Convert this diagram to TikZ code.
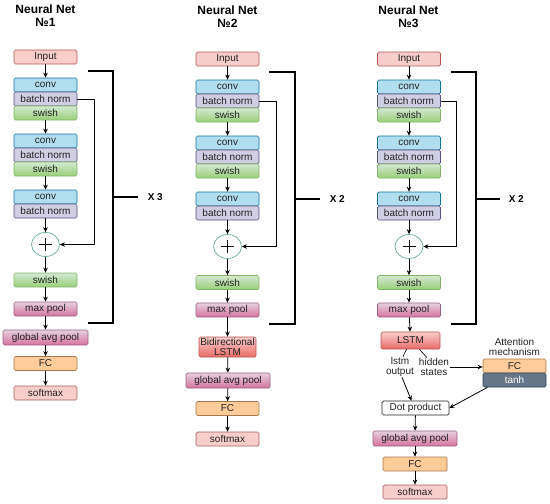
\documentclass[tikz,border=0pt]{standalone}
\usepackage{fontspec}
\setmainfont{Liberation Sans}
\usetikzlibrary{arrows.meta,positioning,shapes.geometric}

\definecolor{inputfill}{HTML}{F8CECC}
\definecolor{inputdraw}{HTML}{B85450}
\definecolor{convfill}{HTML}{B1DDF0}
\definecolor{convdraw}{HTML}{10739E}
\definecolor{bnfill}{HTML}{D0CEE2}
\definecolor{bndraw}{HTML}{56517E}
\definecolor{swtop}{HTML}{D5E8D4}
\definecolor{swbot}{HTML}{97D077}
\definecolor{swdraw}{HTML}{82B366}
\definecolor{pooltop}{HTML}{E6D0DE}
\definecolor{poolbot}{HTML}{D5739D}
\definecolor{pooldraw}{HTML}{996185}
\definecolor{fcfill}{HTML}{FFCC99}
\definecolor{fcdraw}{HTML}{A8774B}
\definecolor{lstmtop}{HTML}{F8CECC}
\definecolor{lstmbot}{HTML}{EA6B66}
\definecolor{tanhfill}{HTML}{647687}
\definecolor{tanhdraw}{HTML}{314354}
\definecolor{plusdraw}{HTML}{67AB9F}
\definecolor{txt}{HTML}{222222}

\tikzset{
  blk/.style={draw, rounded corners=1.5pt, line width=0.7pt, minimum width=63pt,
    minimum height=14pt, inner sep=0pt, text=txt,
    font=\fontsize{10}{9.5}\selectfont},
  inbox/.style={blk, fill=inputfill, draw=inputdraw},
  convbox/.style={blk, fill=convfill, draw=convdraw},
  bnbox/.style={blk, fill=bnfill, draw=bndraw},
  swbox/.style={blk, top color=swtop, bottom color=swbot, draw=swdraw},
  poolbox/.style={blk, top color=pooltop, bottom color=poolbot, draw=pooldraw},
  fcbox/.style={blk, fill=fcfill, draw=fcdraw},
  smbox/.style={blk, fill=inputfill, draw=inputdraw!70!gray},
  lstmbox/.style={blk, top color=lstmtop, bottom color=lstmbot, draw=inputdraw, align=center},
  tanhbox/.style={blk, fill=tanhfill, draw=tanhdraw, text=white},
  dotbox/.style={blk, fill=white, draw=txt},
  plusnode/.style={ellipse, draw=plusdraw, fill=white, line width=0.7pt,
    minimum width=28pt, minimum height=24pt, inner sep=0pt},
  lbl/.style={align=center, inner sep=0.5pt, text=txt,
    font=\fontsize{10}{10}\selectfont},
  title/.style={align=center, font=\fontsize{12}{13}\selectfont\bfseries},
  rep/.style={font=\fontsize{10}{10}\selectfont\bfseries, inner sep=0pt},
  arr/.style={-{Stealth[length=5pt,width=4.5pt]}, line width=0.8pt},
  brk/.style={line width=1.5pt},
}

\begin{document}
\begin{tikzpicture}[x=1pt,y=-1pt]
	\useasboundingbox (0,0) rectangle (550,504);

	% Neural Net 1
	\node[title] (t1) at (45.5,16) {Neural Net\\№1};
	\node[inbox] (in1) at (45.5,57) {Input};
	\node[convbox] (c1a) at (45.5,85) {conv};
	\node[bnbox] (b1a) at (45.5,99) {batch norm};
	\node[swbox] (s1a) at (45.5,113) {swish};
	\node[convbox] (c1b) at (45.5,141) {conv};
	\node[bnbox] (b1b) at (45.5,155) {batch norm};
	\node[swbox] (s1b) at (45.5,169) {swish};
	\node[convbox] (c1c) at (45.5,197) {conv};
	\node[bnbox] (b1c) at (45.5,211) {batch norm};
	\node[plusnode] (p1) at (45.5,244.5) {};
	\node[swbox] (s1c) at (45.5,280) {swish};
	\node[poolbox] (m1) at (45.5,309) {max pool};
	\node[poolbox, minimum width=85pt, minimum height=15pt] (g1) at (45.5,337.5) {global avg pool};
	\node[fcbox] (f1) at (45.5,363.5) {FC};
	\node[smbox] (o1) at (45.5,393) {softmax};

	\draw[line width=0.7pt] ([xshift=-6.5pt]p1.center) -- ([xshift=6.5pt]p1.center);
	\draw[line width=0.7pt] ([yshift=-6.5pt]p1.center) -- ([yshift=6.5pt]p1.center);

	\draw[arr] (in1) -- (c1a);
	\draw[arr] (s1a) -- (c1b);
	\draw[arr] (s1b) -- (c1c);
	\draw[arr] (b1c) -- (p1);
	\draw[arr] (p1) -- (s1c);
	\draw[arr] (s1c) -- (m1);
	\draw[arr] (m1) -- (g1);
	\draw[arr] (g1) -- (f1);
	\draw[arr] (f1) -- (o1);
	\draw[arr] (b1a.east) -- ++(17,0) |- (p1.east);

	\coordinate (r1t) at (88,71);
	\coordinate (r1b) at (88,323);
	\draw[brk] (r1t) -- ++(25,0) coordinate (r1a) |- (r1b);
	\draw[brk] (r1a |- c1c) -- ++(25,0) node[rep, right=9pt] (x1) {X 3};

	% Neural Net 2
	\node[title] (t2) at (227.5,17) {Neural Net\\№2};
	\node[inbox] (in2) at (227.5,59) {Input};
	\node[convbox] (c2a) at (227.5,87) {conv};
	\node[bnbox] (b2a) at (227.5,101) {batch norm};
	\node[swbox] (s2a) at (227.5,115) {swish};
	\node[convbox] (c2b) at (227.5,143) {conv};
	\node[bnbox] (b2b) at (227.5,157) {batch norm};
	\node[swbox] (s2b) at (227.5,171) {swish};
	\node[convbox] (c2c) at (227.5,199) {conv};
	\node[bnbox] (b2c) at (227.5,213) {batch norm};
	\node[plusnode] (p2) at (227.5,246.5) {};
	\node[swbox] (s2c) at (227.5,282.5) {swish};
	\node[poolbox] (m2) at (227.5,310) {max pool};
	\node[lstmbox, minimum width=57pt, minimum height=20pt] (l2) at (227.5,347) {Bidirectional\\LSTM};
	\node[poolbox, minimum width=84pt, minimum height=15pt] (g2) at (228,380.5) {global avg pool};
	\node[fcbox] (f2) at (227.5,408.5) {FC};
	\node[smbox] (o2) at (227.5,439) {softmax};

	\draw[line width=0.7pt] ([xshift=-6.5pt]p2.center) -- ([xshift=6.5pt]p2.center);
	\draw[line width=0.7pt] ([yshift=-6.5pt]p2.center) -- ([yshift=6.5pt]p2.center);

	\draw[arr] (in2) -- (c2a);
	\draw[arr] (s2a) -- (c2b);
	\draw[arr] (s2b) -- (c2c);
	\draw[arr] (b2c) -- (p2);
	\draw[arr] (p2) -- (s2c);
	\draw[arr] (s2c) -- (m2);
	\draw[arr] (m2) -- (l2);
	\draw[arr] (l2) -- (g2);
	\draw[arr] (g2) -- (f2);
	\draw[arr] (f2) -- (o2);
	\draw[arr] (b2a.east) -- ++(17,0) |- (p2.east);

	\coordinate (r2t) at (269,72);
	\coordinate (r2b) at (269,324);
	\draw[brk] (r2t) -- ++(26,0) coordinate (r2a) |- (r2b);
	\draw[brk] (r2a |- c2c) -- ++(25,0) node[rep, right=9pt] (x2) {X 2};

	% Neural Net 3
	\node[title] (t3) at (408.5,17) {Neural Net\\№3};
	\node[inbox] (in3) at (409,59) {Input};
	\node[convbox] (c3a) at (409,87) {conv};
	\node[bnbox] (b3a) at (409,101) {batch norm};
	\node[swbox] (s3a) at (409,115) {swish};
	\node[convbox] (c3b) at (409,143) {conv};
	\node[bnbox] (b3b) at (409,157) {batch norm};
	\node[swbox] (s3b) at (409,171) {swish};
	\node[convbox] (c3c) at (409,199) {conv};
	\node[bnbox] (b3c) at (409,213) {batch norm};
	\node[plusnode] (p3) at (409,246.5) {};
	\node[swbox] (s3c) at (409,282.5) {swish};
	\node[poolbox] (m3) at (409,310) {max pool};
	\node[lstmbox, minimum width=59pt, minimum height=17pt] (l3) at (410.5,340.5) {LSTM};
	\node[lbl] (lo3) at (400,367) {lstm\\output};
	\node[lbl] (hs3) at (434,367) {hidden\\states};
	\node[lbl] (at3) at (514.5,347) {Attention\\mechanism};
	\node[fcbox] (a3) at (514.5,366) {FC};
	\node[tanhbox] (th3) at (514.5,380) {tanh};
	\node[dotbox, minimum width=67pt] (d3) at (415.5,408) {Dot product};
	\node[poolbox, minimum width=84pt, minimum height=15pt] (g3) at (415,438.5) {global avg pool};
	\node[fcbox, minimum width=64pt] (f3) at (415,464) {FC};
	\node[smbox, minimum width=64pt] (o3) at (415,492) {softmax};

	\draw[line width=0.7pt] ([xshift=-6.5pt]p3.center) -- ([xshift=6.5pt]p3.center);
	\draw[line width=0.7pt] ([yshift=-6.5pt]p3.center) -- ([yshift=6.5pt]p3.center);

	\draw[arr] (in3) -- (c3a);
	\draw[arr] (s3a) -- (c3b);
	\draw[arr] (s3b) -- (c3c);
	\draw[arr] (b3c) -- (p3);
	\draw[arr] (p3) -- (s3c);
	\draw[arr] (s3c) -- (m3);
	\draw[arr] (m3) -- (l3);
	\draw[arr] (b3a.east) -- ++(16,0) |- (p3.east);
	\draw[line width=0.6pt] ([xshift=-4pt]l3.south) -- ([xshift=3pt]lo3.north);
	\draw[line width=0.6pt] ([xshift=9pt]l3.south) -- ([xshift=-7pt]hs3.north);
	\draw[arr] ([xshift=2pt]lo3.south) -- ([xshift=-4pt]d3.north);
	\draw[arr] (hs3.east) -- (hs3.east -| a3.west);
	\draw[arr] ([xshift=-27pt]th3.south) -- (d3.east);
	\draw[arr] (d3) -- (g3);
	\draw[arr] (g3) -- (f3);
	\draw[arr] (f3) -- (o3);

	\coordinate (r3t) at (451,72);
	\coordinate (r3b) at (451,324);
	\draw[brk] (r3t) -- ++(25,0) coordinate (r3a) |- (r3b);
	\draw[brk] (r3a |- c3c) -- ++(24,0) node[rep, right=8pt] (x3) {X 2};
\end{tikzpicture}
\end{document}
